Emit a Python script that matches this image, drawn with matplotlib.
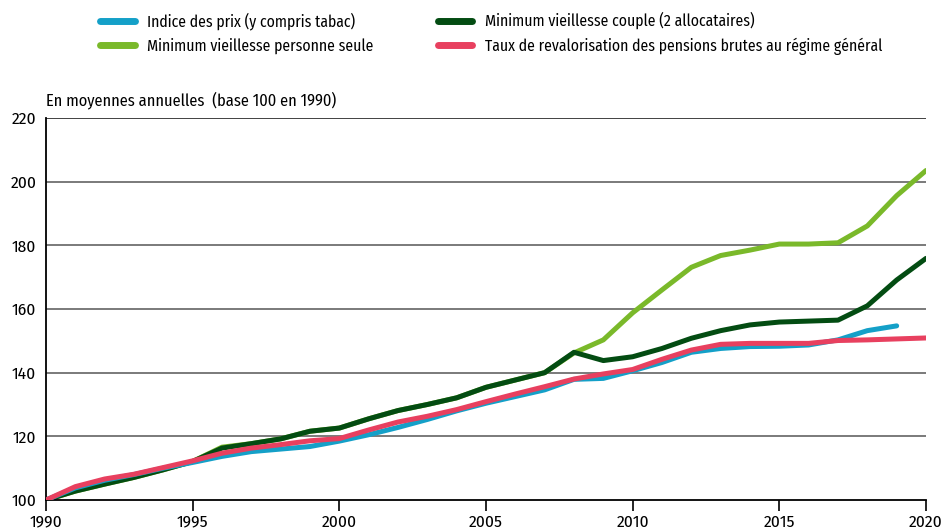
import matplotlib.pyplot as plt

years = list(range(1990, 2021))

# Indice des prix (y compris tabac), ends in 2019
prix = [100, 103.8, 106.2, 108.0, 110.0, 111.8, 113.7, 115.2, 116.0, 116.8,
        118.5, 120.5, 122.8, 125.3, 128.0, 130.4, 132.5, 134.6, 137.9, 138.2,
        140.6, 143.2, 146.4, 147.6, 148.2, 148.3, 148.7, 150.3, 153.2, 154.7]

mv_seule = [100, 102.8, 105.0, 107.1, 109.5, 112.1, 116.6, 117.7, 119.2, 121.6,
            122.6, 125.5, 128.1, 130.0, 132.1, 135.4, 137.7, 140.0, 146.2, 150.3,
            158.8, 166.0, 173.1, 176.8, 178.5, 180.4, 180.4, 180.8, 186.1, 195.6,
            203.5]

mv_couple = [100, 102.8, 105.0, 107.1, 109.5, 112.1, 116.3, 117.7, 119.2, 121.6,
             122.6, 125.5, 128.1, 130.0, 132.1, 135.4, 137.7, 140.0, 146.4, 143.8,
             145.0, 147.6, 150.8, 153.2, 155.0, 155.9, 156.2, 156.5, 161.0, 169.1,
             175.9]

revalo = [100, 104.2, 106.6, 108.1, 110.2, 112.3, 114.7, 116.3, 117.4, 118.6,
          119.3, 122.0, 124.5, 126.3, 128.4, 130.9, 133.3, 135.6, 138.0, 139.6,
          141.0, 144.2, 147.1, 148.9, 149.2, 149.2, 149.2, 150.1, 150.3, 150.6,
          150.9]

labels = ["Indice des prix (y compris tabac)",
          "Minimum vieillesse personne seule",
          "Minimum vieillesse couple (2 allocataires)",
          "Taux de revalorisation des pensions brutes au régime général"]
colors = ["#14a0c8", "#7ab92a", "#034c12", "#e8405f"]

plt.rcParams["font.family"] = ["Fira Sans Condensed", "DejaVu Sans"]
plt.rcParams["font.size"] = 12

fig = plt.figure(figsize=(9.44, 5.29), dpi=100)
ax = fig.add_axes([46 / 944, 29 / 529, 880 / 944, 382 / 529])

lw = 3.6
l_prix, = ax.plot(years[:len(prix)], prix, color=colors[0], lw=lw, solid_capstyle="round", zorder=3)
l_seule, = ax.plot(years, mv_seule, color=colors[1], lw=lw, solid_capstyle="round", zorder=2)
l_couple, = ax.plot(years, mv_couple, color=colors[2], lw=lw, solid_capstyle="round", zorder=2.5)
l_revalo, = ax.plot(years, revalo, color=colors[3], lw=lw, solid_capstyle="round", zorder=4)

ax.set_xlim(1990, 2020)
ax.set_ylim(100, 220)
ax.set_xticks(range(1990, 2021, 5))
ax.set_yticks(range(100, 221, 20))
ax.tick_params(axis="x", direction="out", length=8, width=1.2, pad=2, labelsize=12.5, color="black")
ax.tick_params(axis="y", length=0, pad=7, labelsize=12.5)
for y in range(120, 221, 20):
    ax.axhline(y, color="#707070" if y < 220 else "#333333", lw=1.3, zorder=1)
for s in ["top", "right"]:
    ax.spines[s].set_visible(False)
ax.spines["left"].set_linewidth(1.3)
ax.spines["bottom"].set_linewidth(1.3)

fig.text(46 / 944, 1 - 100 / 529, "En moyennes annuelles  (base 100 en 1990)",
         fontsize=11.8, va="center", ha="left")

leg = fig.legend([l_prix, l_seule, l_couple, l_revalo], labels, ncol=2,
                 loc="upper left", bbox_to_anchor=(100 / 944, 1 - 12 / 529),
                 frameon=False, fontsize=11.3, handlelength=2.2, handletextpad=0.8,
                 columnspacing=4.1, labelspacing=0.5, borderpad=0, borderaxespad=0)
for h in leg.legend_handles:
    h.set_linewidth(5)

fig.savefig("out.png", dpi=100)
